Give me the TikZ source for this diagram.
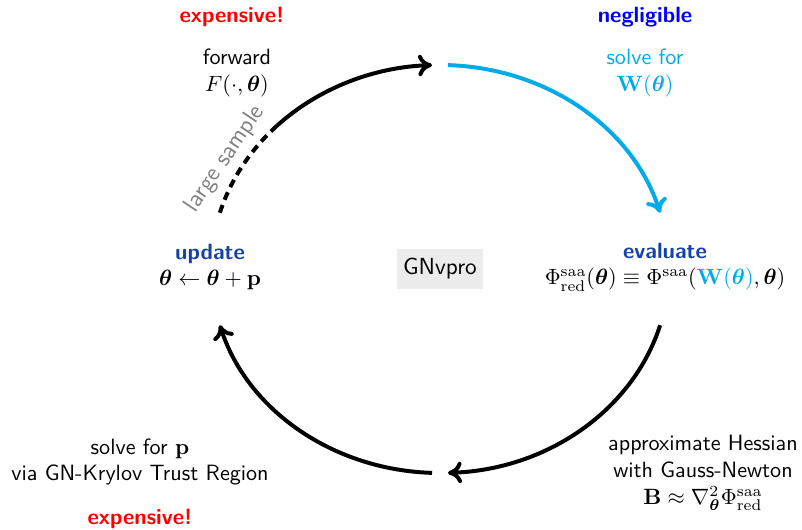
\documentclass[tikz,border=0pt]{standalone}
\usepackage{amsmath,bm}
\usetikzlibrary{arrows.meta, calc}

\definecolor{darkblue}{RGB}{22,64,170}
\definecolor{skyblue}{RGB}{0,170,235}

\begin{document}
\begin{tikzpicture}[
    % Global options: pixel-like units, line width, font
    x=0.15885mm, y=0.15885mm,
    line width=1.8pt,
    font=\sffamily,
    flow/.style={-{To[length=2.2mm,width=3.4mm]}},
    txt/.style={align=center, inner sep=1pt},
    cost/.style={font=\sffamily\bfseries},
  ]
    \useasboundingbox (0,0) rectangle (802,529);

    % --- Centre of the cycle and points on it ---
    \coordinate (c) at (440,260);
    \coordinate (trA) at ($(c)+(88:229 and 204)$);
    \coordinate (brA) at ($(c)+(-16:229 and 204)$);
    \coordinate (blA) at ($(c)+(-92:229 and 204)$);
    \coordinate (tlA) at ($(c)+(164:229 and 204)$);
    \coordinate (tlB) at ($(c)+(137:229 and 204)$);

    % --- Centre box ---
    \node[fill=gray!15, inner xsep=3pt, inner ysep=4.5pt,
          font=\sffamily\fontsize{10.5}{12}\selectfont] (gnv) at (c) {GNvpro};

    % --- Steps ---
    \node[txt] (update) at (210,262)
      {\textcolor{darkblue}{\bfseries update}\\ $\bm{\theta} \leftarrow \bm{\theta} + \mathbf{p}$};
    \node[txt] (evaluate) at (665,262)
      {\textcolor{darkblue}{\bfseries evaluate}\\
       $\Phi^{\mathrm{saa}}_{\mathrm{red}}(\bm{\theta}) \equiv
        \Phi^{\mathrm{saa}}(\textcolor{skyblue}{\mathbf{W}(\bm{\theta})}, \bm{\theta})$};
    \node[txt] (forward) at (237,456) {forward\\ $F(\cdot, \bm{\theta})$};
    \node[txt, text=skyblue] (solveW) at (645,456) {solve for\\ $\mathbf{W}(\bm{\theta})$};
    \node[txt] (solveP) at (140,67) {solve for $\mathbf{p}$\\ via GN-Krylov Trust Region};
    \node[txt] (approx) at (703,56)
      {approximate Hessian\\ with Gauss-Newton\\
       $\mathbf{B} \approx \nabla^2_{\bm{\theta}} \Phi^{\mathrm{saa}}_{\mathrm{red}}$};

    % --- Costs ---
    \node[cost, text=red] (expTop) at (232,512) {expensive!};
    \node[cost, text=blue] (negl) at (645,512) {negligible};
    \node[cost, text=red] (expBot) at (140,10) {expensive!};

    % --- Cycle arrows ---
    \draw[flow, skyblue] (trA) arc[start angle=88, end angle=16, x radius=229, y radius=204];
    \draw[flow] (brA) arc[start angle=-16, end angle=-88, x radius=229, y radius=204];
    \draw[flow] (blA) arc[start angle=-92, end angle=-164, x radius=229, y radius=204];
    \draw[dash pattern=on 1.3mm off 0.9mm] (tlA) arc[start angle=164, end angle=137, x radius=229, y radius=204];
    \draw[flow] (tlB) arc[start angle=137, end angle=92, x radius=229, y radius=204];
    \node[text=gray, rotate=56, font=\sffamily\fontsize{11}{13}\selectfont] (sample) at (225,370) {large sample};
  \end{tikzpicture}
\end{document}
